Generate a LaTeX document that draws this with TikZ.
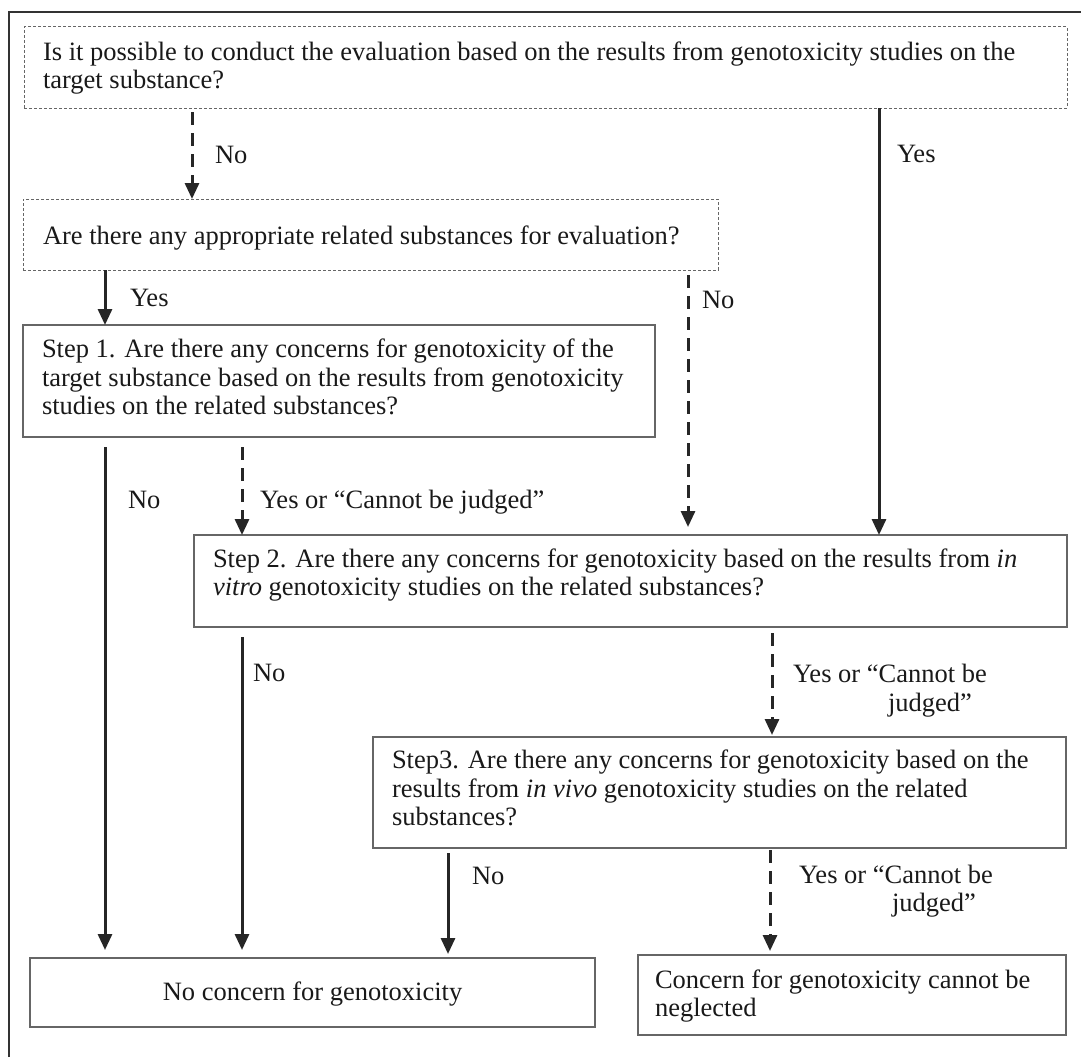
\documentclass[tikz,border=0pt]{standalone}
\usepackage{fontspec}
\setmainfont{Liberation Serif}
\usetikzlibrary{arrows.meta}
\begin{document}
\begin{tikzpicture}[x=1pt,y=-1pt,
  frameline/.style={line width=2.5pt, draw=black!80},
  dbox/.style={draw=black!60, line width=1pt, dash pattern=on 3pt off 2pt, inner sep=0pt, outer sep=0pt, anchor=north west},
  sbox/.style={draw=black!60, line width=1.5pt, inner sep=0pt, outer sep=0pt, anchor=north west},
  txt/.style={font=\fontsize{26.5}{28.5}\selectfont, text=black!90, inner sep=0pt, outer sep=0pt, anchor=west, align=left,
              execute at begin node=\strut, execute at end node=\strut},
  arr/.style={line width=3pt, draw=black!85, -{Triangle[length=16pt,width=14pt]}},
  darr/.style={arr, dash pattern=on 13pt off 8pt}]
\useasboundingbox (0,0) rectangle (1081,1057);

% outer frame (left and top)
\coordinate (fbl) at (9,1057);
\coordinate (ftl) at (9,12);
\coordinate (ftr) at (1081,12);
\draw[frameline] (fbl) -- (ftl) -- (ftr);

% boxes
\node[dbox, minimum width=1043pt, minimum height=81pt] (t) at (24,27) {};
\node[dbox, minimum width=695pt, minimum height=71pt] (a) at (23,199) {};
\node[sbox, minimum width=632pt, minimum height=112pt] (s1) at (23,325) {};
\node[sbox, minimum width=873pt, minimum height=92pt] (s2) at (194,535) {};
\node[sbox, minimum width=693pt, minimum height=111pt] (s3) at (373,737) {};
\node[sbox, minimum width=565pt, minimum height=69pt] (n) at (30,958) {};
\node[sbox, minimum width=428pt, minimum height=80pt] (c) at (638,955) {};

% box texts
\node[txt] (tT) at (43,69.6) {Is it possible to conduct the evaluation based on the results from genotoxicity studies on the\\target substance?};
\node[txt] (tA) at (43,238.6) {Are there any appropriate related substances for evaluation?};
\node[txt] (tS1) at (42,381) {Step 1. Are there any concerns for genotoxicity of the\\target substance based on the results from genotoxicity\\studies on the related substances?};
\node[txt] (tS2) at (213,576.6) {Step 2. Are there any concerns for genotoxicity based on the results from \textit{in}\\\textit{vitro} genotoxicity studies on the related substances?};
\node[txt] (tS3) at (392,792) {Step3. Are there any concerns for genotoxicity based on the\\results from \textit{in vivo} genotoxicity studies on the related\\substances?};
\node[txt, anchor=center] (tN) at (n.center) [yshift=-2.6pt] {No concern for genotoxicity};
\node[txt] (tC) at (655,997.6) {Concern for genotoxicity cannot be\\neglected};

% x positions of connectors
\coordinate (xa) at (192,0);
\coordinate (xb) at (879,0);
\coordinate (xc) at (105,0);
\coordinate (xd) at (688,0);
\coordinate (xe) at (242,0);
\coordinate (xf) at (772,0);
\coordinate (xg) at (448,0);
\coordinate (xh) at (770,0);

% connectors
\draw[darr, shorten <=4pt] (t.south -| xa) -- (a.north -| xa);
\draw[arr] (t.south -| xb) -- (s2.north -| xb);
\draw[arr] (a.south -| xc) -- (s1.north -| xc);
\draw[darr, shorten <=5pt, shorten >=8pt] (a.south -| xd) -- (s2.north -| xd);
\draw[arr, shorten <=10pt, shorten >=8pt] (s1.south -| xc) -- (n.north -| xc);
\draw[darr, shorten <=10pt] (s1.south -| xe) -- (s2.north -| xe);
\draw[arr, shorten <=10pt, shorten >=8pt] (s2.south -| xe) -- (n.north -| xe);
\draw[darr, shorten <=6pt, shorten >=2pt] (s2.south -| xf) -- (s3.north -| xf);
\draw[arr, shorten <=5pt, shorten >=4pt] (s3.south -| xg) -- (n.north -| xg);
\draw[darr, shorten <=2pt, shorten >=4pt] (s3.south -| xh) -- (c.north -| xh);

% connector labels
\node[txt] (l1) at (215,157.6) {No};
\node[txt] (l2) at (897,156.6) {Yes};
\node[txt] (l3) at (130,300.6) {Yes};
\node[txt] (l4) at (702,302.6) {No};
\node[txt] (l5) at (128,502.6) {No};
\node[txt] (l6) at (260,502.6) {Yes or “Cannot be judged”};
\node[txt] (l7) at (253,675.6) {No};
\node[txt] (l8) at (793,676.6) {Yes or “Cannot be};
\node[txt] (l9) at (888,705.6) {judged”};
\node[txt] (l10) at (472,878.6) {No};
\node[txt] (l11) at (799,877.6) {Yes or “Cannot be};
\node[txt] (l12) at (892,905.6) {judged”};
\end{tikzpicture}
\end{document}
